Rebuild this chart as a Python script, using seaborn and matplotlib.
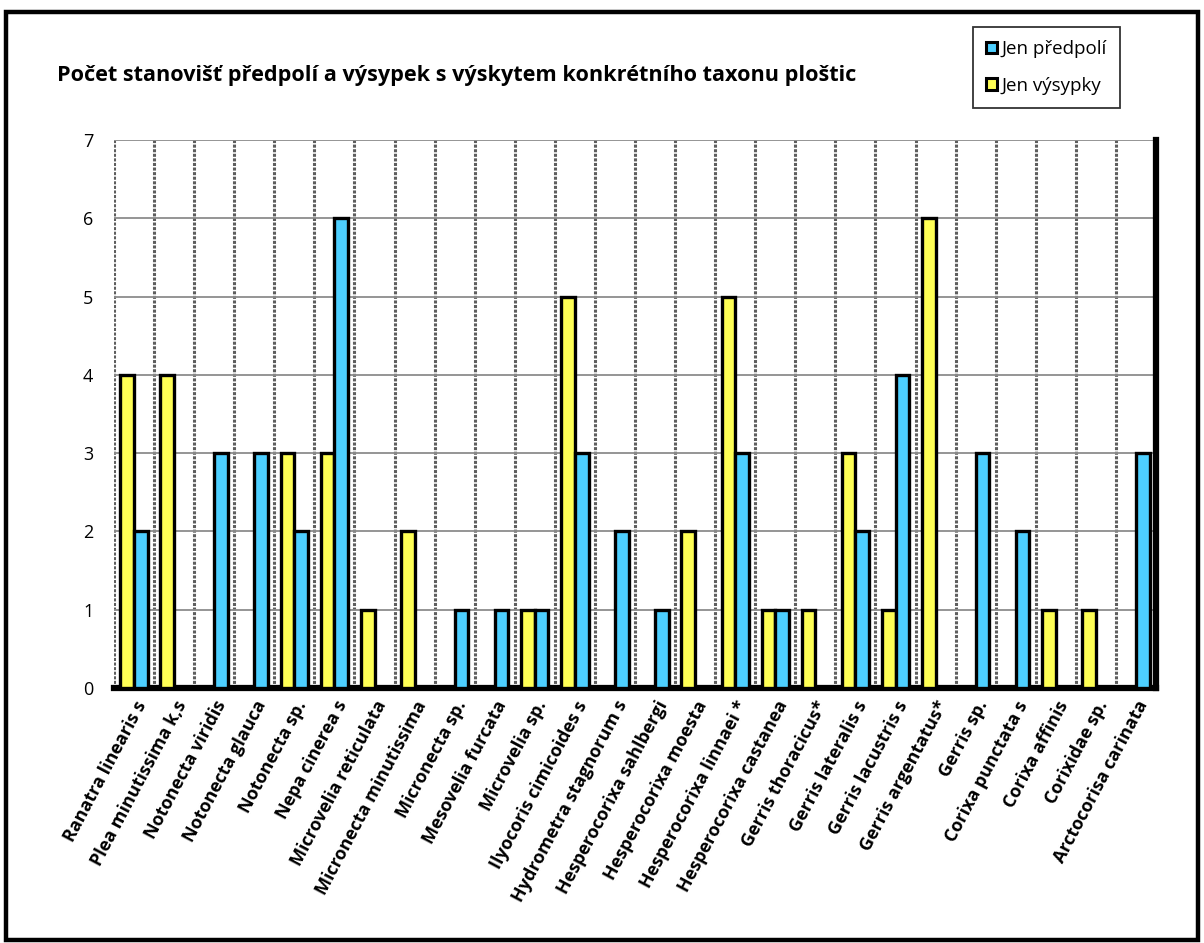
import numpy as np
import pandas as pd
import matplotlib
matplotlib.use("Agg")
import matplotlib.pyplot as plt
import seaborn as sns
from matplotlib.patches import Rectangle, Patch

categories = [
    "Ranatra linearis s", "Plea minutissima k,s", "Notonecta viridis", "Notonecta glauca",
    "Notonecta sp.", "Nepa cinerea s", "Microvelia reticulata", "Micronecta minutissima",
    "Micronecta sp.", "Mesovelia furcata", "Microvelia sp.", "Ilyocoris cimicoides s",
    "Hydrometra stagnorum s", "Hesperocorixa sahlbergi", "Hesperocorixa moesta",
    "Hesperocorixa linnaei *", "Hesperocorixa castanea", "Gerris thoracicus*",
    "Gerris lateralis s", "Gerris lacustris s", "Gerris argentatus*", "Gerris sp.",
    "Corixa punctata s", "Corixa affinis", "Corixidae sp.", "Arctocorisa carinata",
]
jen_predpoli = [2, 0, 3, 3, 2, 6, 0, 0, 1, 1, 1, 3, 2, 1, 0, 3, 1, 0, 2, 4, 0, 3, 2, 0, 0, 3]
jen_vysypky = [4, 4, 0, 0, 3, 3, 1, 2, 0, 0, 1, 5, 0, 0, 2, 5, 1, 1, 3, 1, 6, 0, 0, 1, 1, 0]
series_names = ["Jen předpolí", "Jen výsypky"]
title = "Počet stanovišť předpolí a výsypek s výskytem konkrétního taxonu ploštic"

colors = {"Jen předpolí": "#4dcfff", "Jen výsypky": "#ffff55"}

df = pd.DataFrame({
    "taxon": categories * 2,
    "count": jen_predpoli + jen_vysypky,
    "series": [series_names[0]] * len(categories) + [series_names[1]] * len(categories),
})

sns.set_theme(style="white")
plt.rcParams["font.family"] = ["Open Sans", "DejaVu Sans"]
plt.rcParams["text.color"] = "black"
plt.rcParams["xtick.color"] = "black"
plt.rcParams["ytick.color"] = "black"

fig = plt.figure(figsize=(12.04, 9.43), dpi=100)
ax = fig.add_axes([114 / 1204, 1 - 688 / 943, (1156 - 114) / 1204, (688 - 140) / 943])

sns.barplot(data=df, x="taxon", y="count", hue="series",
            hue_order=[series_names[1], series_names[0]], order=categories,
            palette=colors, width=0.68, gap=0.0, edgecolor="black", linewidth=2.4,
            saturation=1, ax=ax, legend=False, zorder=3)

ax.set_xlim(-0.5, len(categories) - 0.5)
ax.set_ylim(0, 7)
ax.set_yticks(range(0, 8))
ax.set_yticklabels([str(i) for i in range(8)], fontsize=13, color="black")
ax.tick_params(axis="y", length=0, pad=15)

ax.set_xticks(range(len(categories)))
ax.set_xticklabels(categories, rotation=62, ha="right", rotation_mode="anchor",
                   fontsize=13, fontweight="bold", color="black")
ax.tick_params(axis="x", which="major", length=0, pad=7)
ax.set_xticks(np.arange(-0.5, len(categories), 1), minor=True)
ax.tick_params(axis="x", which="minor", direction="inout", length=9, width=3, color="black")

ax.set_xlabel("")
ax.set_ylabel("")

ax.grid(axis="y", which="major", color="#8c8c8c", linewidth=1.3, zorder=0)
ax.grid(axis="x", which="minor", color="#5e5e5e", linewidth=2.2, linestyle=(0, (1.0, 0.5)), zorder=0)
ax.grid(axis="x", which="major", visible=False)
ax.set_axisbelow(True)

for s in ["top", "left"]:
    ax.spines[s].set_visible(False)
ax.spines["bottom"].set_linewidth(4.5)
ax.spines["bottom"].set_color("black")
ax.spines["right"].set_linewidth(4.5)
ax.spines["right"].set_color("black")

fig.text(57 / 1204, 1 - 75 / 943, title, fontsize=15.6, fontweight="bold",
         ha="left", va="center", color="black")

handles = [Patch(facecolor=colors[n], edgecolor="black", linewidth=2.2) for n in series_names]
leg = fig.legend(handles, series_names, loc="upper left",
                 bbox_to_anchor=(973 / 1204, 1 - 27 / 943), fontsize=13.5,
                 frameon=True, fancybox=False, edgecolor="black",
                 handlelength=0.6, handleheight=0.6, handletextpad=0.2,
                 labelspacing=1.0, borderpad=0.7, borderaxespad=0)
leg.get_frame().set_linewidth(1.3)
for t in leg.get_texts():
    t.set_color("black")

fig.patches.append(Rectangle((6 / 1204, 3 / 943), 1192 / 1204, 928 / 943,
                             transform=fig.transFigure, fill=False,
                             edgecolor="black", linewidth=3.2))

fig.savefig("out.png", dpi=100)
